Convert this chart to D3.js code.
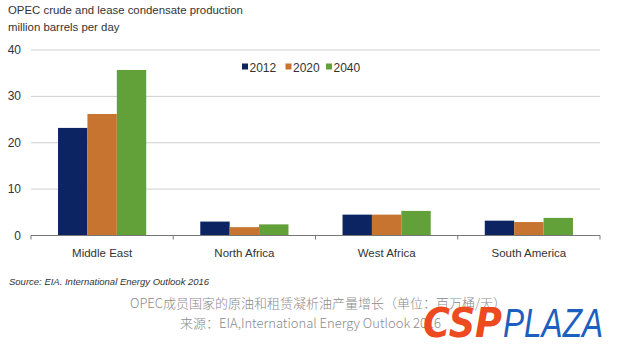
<!DOCTYPE html>
<html>
<head>
<meta charset="utf-8">
<script src="https://cdn.jsdelivr.net/npm/d3@7"></script>
<style>
  body { margin: 0; background: #fff; }
  svg { display: block; font-family: "Liberation Sans", Arial, sans-serif; }
</style>
</head>
<body>
<div id="chart"></div>
<script>
// regions and years
const regions = ["Middle East", "North Africa", "West Africa", "South America"];
const years = ["2012", "2020", "2040"];

// production per region, million barrels per day
const v2012 = [23.2, 3.0, 4.5, 3.2];
const v2020 = [26.2, 1.8, 4.5, 2.9];
const v2040 = [35.7, 2.4, 5.3, 3.8];

const yTicks = [0, 10, 20, 30, 40];

const colors = ["#0c2462", "#c77430", "#62a03a"];

function draw() {
  const width = 620, height = 352;

  const svg = d3.select("#chart")
    .append("svg")
    .attr("width", width)
    .attr("height", height);

  // scales
  const x = d3.scaleBand()
    .domain(regions)
    .range([31, 600])
    .paddingInner(0.38)
    .paddingOuter(0.19);

  const xSub = d3.scaleBand()
    .domain(years)
    .range([0, x.bandwidth()]);

  const y = d3.scaleLinear()
    .domain([0, 40])
    .range([235.5, 50]);

  // gridlines
  svg.append("g")
    .selectAll("line")
    .data(yTicks.filter(d => d > 0))
    .join("line")
    .attr("x1", 31)
    .attr("x2", 600)
    .attr("y1", d => y(d))
    .attr("y2", d => y(d))
    .attr("stroke", "#cfcfcf")
    .attr("stroke-width", 1);

  // y labels
  svg.append("g")
    .selectAll("text")
    .data(yTicks)
    .join("text")
    .attr("x", 21)
    .attr("y", d => y(d) + 4)
    .attr("text-anchor", "end")
    .attr("font-size", 12)
    .attr("fill", "#333")
    .text(d => d);

  // bars
  const series = [v2012, v2020, v2040];
  const rows = regions.map((r, i) => ({ region: r, values: years.map((yr, j) => ({ year: yr, value: series[j][i], c: colors[j] })) }));

  svg.append("g")
    .selectAll("g")
    .data(rows)
    .join("g")
    .attr("transform", d => `translate(${x(d.region)},0)`)
    .selectAll("rect")
    .data(d => d.values)
    .join("rect")
    .attr("x", d => xSub(d.year))
    .attr("width", xSub.bandwidth())
    .attr("y", d => y(d.value))
    .attr("height", d => y(0) - y(d.value))
    .attr("fill", d => d.c);

  // x axis line and boundary ticks
  const axis = svg.append("g").attr("stroke", "#777");
  axis.append("line")
    .attr("x1", 31).attr("x2", 600)
    .attr("y1", y(0)).attr("y2", y(0));
  const bounds = regions.map(r => x(r) - x.step() * x.paddingInner() / 2);
  bounds.push(600);
  bounds[0] = 31;
  axis.selectAll("line.tk")
    .data(bounds)
    .join("line")
    .attr("class", "tk")
    .attr("x1", d => d).attr("x2", d => d)
    .attr("y1", y(0)).attr("y2", y(0) + 4);

  // category labels
  svg.append("g")
    .selectAll("text")
    .data(regions)
    .join("text")
    .attr("x", d => x(d) + x.bandwidth() / 2)
    .attr("y", 256.5)
    .attr("text-anchor", "middle")
    .attr("font-size", 11.5)
    .attr("fill", "#333")
    .text(d => d);

  // legend
  const legX = [242, 285.5, 326];
  const leg = svg.append("g")
    .selectAll("g")
    .data(years)
    .join("g")
    .attr("transform", (d, i) => `translate(${legX[i]},67)`);
  leg.append("rect")
    .attr("x", 0).attr("y", -3.5)
    .attr("width", 6).attr("height", 6)
    .attr("fill", (d, i) => colors[i]);
  leg.append("text")
    .attr("x", 7.5).attr("y", 4.5)
    .attr("font-size", 12)
    .attr("fill", "#333")
    .text(d => d);

  // titles
  svg.append("text")
    .attr("x", 8).attr("y", 14)
    .attr("font-size", 11.4)
    .attr("fill", "#333")
    .text("OPEC crude and lease condensate production");
  svg.append("text")
    .attr("x", 8).attr("y", 31)
    .attr("font-size", 11.4)
    .attr("fill", "#333")
    .text("million barrels per day");

  // source
  svg.append("text")
    .attr("x", 9).attr("y", 284.5)
    .attr("font-size", 9.5)
    .attr("font-style", "italic")
    .attr("fill", "#333")
    .text("Source:  EIA. International Energy Outlook 2016");

  // chinese caption
  svg.append("text")
    .attr("x", 318).attr("y", 308)
    .attr("text-anchor", "middle")
    .attr("font-family", "'Noto Sans CJK SC', sans-serif")
    .attr("font-size", 13)
    .attr("font-weight", 300)
    .attr("fill", "#8a8a8a")
    .text("OPEC成员国家的原油和租赁凝析油产量增长（单位：百万桶/天）");
  svg.append("text")
    .attr("x", 180).attr("y", 328)
    .attr("font-family", "'Noto Sans CJK SC', sans-serif")
    .attr("font-size", 13)
    .attr("font-weight", 300)
    .attr("fill", "#8a8a8a")
    .text("来源：EIA,International Energy Outlook 2016");

  // logo
  svg.append("text")
    .attr("x", 423).attr("y", 337)
    .attr("font-family", "'DejaVu Sans', sans-serif")
    .attr("font-size", 40)
    .attr("font-weight", "bold")
    .attr("font-style", "italic")
    .attr("fill", "#ee4a22")
    .attr("textLength", 79)
    .attr("lengthAdjust", "spacingAndGlyphs")
    .text("CSP");
  svg.append("text")
    .attr("x", 503).attr("y", 337)
    .attr("font-family", "'Liberation Sans', sans-serif")
    .attr("font-size", 40)
    .attr("font-style", "italic")
    .attr("fill", "#1d5fc0")
    .attr("textLength", 100)
    .attr("lengthAdjust", "spacingAndGlyphs")
    .text("PLAZA");
}

draw();
</script>
</body>
</html>
